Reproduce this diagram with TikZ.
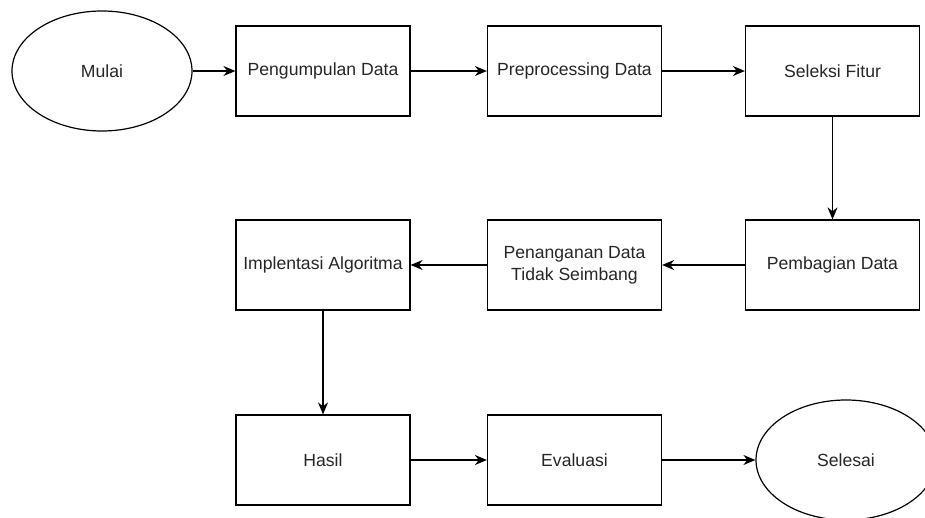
\documentclass[tikz,border=0pt]{standalone}
\usepackage{fontspec}
\setmainfont{Liberation Sans}
\usetikzlibrary{arrows.meta,shapes.geometric}

\begin{document}
\begin{tikzpicture}[x=1pt, y=-1pt,
		every node/.style={font=\fontsize{17.6}{22}\selectfont, text=black!85, line width=1.2pt},
		langkah/.style={draw, rectangle, minimum width=174pt, minimum height=90pt, align=center},
		terminal/.style={draw, ellipse, minimum width=180pt, minimum height=120pt, inner sep=0pt},
		panah/.style={-{Stealth[length=12pt, width=10pt]}, line width=1.2pt}]
		\useasboundingbox (0,0) rectangle (925,518);

		\node[terminal] (mulai) at (102, 71) {Mulai};
		\node[langkah] (kumpul) at (323, 71) {Pengumpulan Data};
		\node[langkah] (prepro) at (574.5, 71) {Preprocessing Data};
		\node[langkah] (seleksi) at (832.5, 71) {Seleksi Fitur};

		\node[langkah] (implen) at (323, 265) {Implentasi Algoritma};
		\node[langkah] (tangani) at (574.5, 265) {Penanganan Data\\Tidak Seimbang};
		\node[langkah] (bagi) at (832.5, 265) {Pembagian Data};

		\node[langkah] (hasil) at (323, 460) {Hasil};
		\node[langkah] (evaluasi) at (574.5, 460) {Evaluasi};
		\node[terminal] (selesai) at (846, 460) {Selesai};

		\draw[panah] (mulai) -- (kumpul);
		\draw[panah] (kumpul) -- (prepro);
		\draw[panah] (prepro) -- (seleksi);
		\draw[panah] (seleksi) -- (bagi);
		\draw[panah] (bagi) -- (tangani);
		\draw[panah] (tangani) -- (implen);
		\draw[panah] (implen) -- (hasil);
		\draw[panah] (hasil) -- (evaluasi);
		\draw[panah] (evaluasi) -- (selesai);
	\end{tikzpicture}
\end{document}
